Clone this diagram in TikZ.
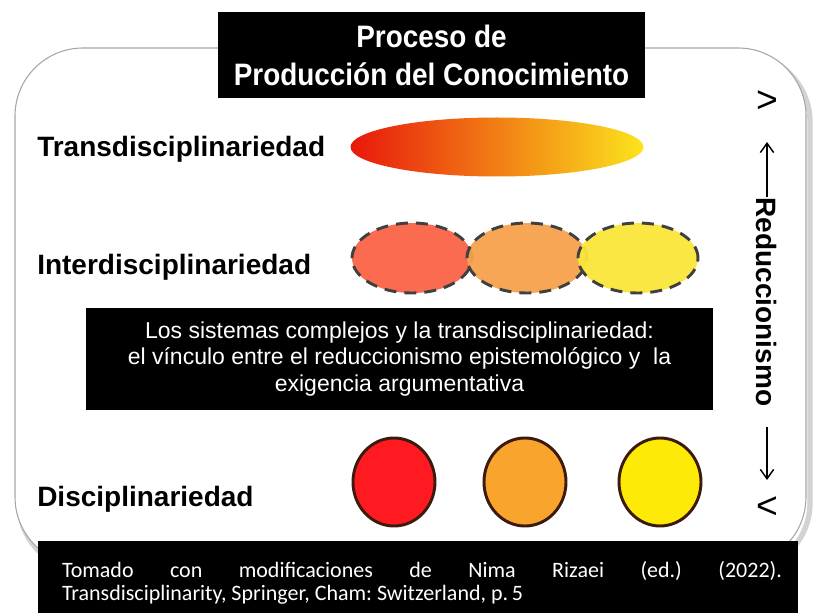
\documentclass[tikz,border=0pt]{standalone}
\usepackage{fontspec}
\setmainfont{Liberation Sans}
\newfontfamily\titlefont{Liberation Sans}[FakeStretch=0.9]
\newfontfamily\footfont{Carlito}
\usetikzlibrary{arrows.meta,shapes.geometric}
\definecolor{gred}{HTML}{E8180C}
\definecolor{gorange}{HTML}{F89020}
\definecolor{gyellow}{HTML}{FBE41D}
\definecolor{ired}{HTML}{FA6446}
\definecolor{iorange}{HTML}{F6A24C}
\definecolor{iyellow}{HTML}{FBE63A}
\definecolor{cred}{HTML}{FF1A22}
\definecolor{corange}{HTML}{F9A42C}
\definecolor{cyellow}{HTML}{FDEA07}
\definecolor{cline}{HTML}{3C1A0E}
\frenchspacing
\begin{document}
\begin{tikzpicture}[x=0.75pt,y=-0.75pt,
  lbl/.style={anchor=base west,inner sep=0pt,font=\fontsize{21}{24}\selectfont\bfseries},
  blackbox/.style={fill=black,inner sep=0pt,text=white},
  dashell/.style={ellipse,draw=black!75,line width=2.2pt,dash pattern=on 9pt off 6pt,
    minimum width=90pt,minimum height=52.5pt,inner sep=0pt,fill opacity=0.95},
  disc/.style={ellipse,draw=cline,line width=2.2pt,minimum width=61.5pt,minimum height=66pt,inner sep=0pt},
  arr/.style={-{Straight Barb[length=7pt,width=10pt]},line width=1.1pt},
  sym/.style={inner sep=0pt,font=\fontsize{28}{30}\selectfont}
]
\useasboundingbox[fill=white] (0,0) rectangle (829,613);

% frame with shadow
\draw[gray!35,line width=4pt,rounded corners=51pt] (19,54) rectangle (810,571);
\draw[gray!70,line width=0.8pt,fill=white,rounded corners=51pt] (15,48) rectangle (806,565);

% title
\node[blackbox,minimum width=320.25pt,minimum height=64.5pt,align=center,
  font=\titlefont\bfseries\fontsize{23.25}{28.5}\selectfont] (title) at (431.5,55)
  {Proceso de\\Producción del Conocimiento};

% labels
\node[lbl] (ltrans) at (37,157) {Transdisciplinariedad};
\node[lbl] (linter) at (37,275) {Interdisciplinariedad};
\node[lbl] (ldisc) at (37,506) {Disciplinariedad};

% transdisciplinary gradient ellipse
\node[ellipse,inner sep=0pt,minimum width=219.75pt,minimum height=44.25pt,
  left color=gred,middle color=gorange,right color=gyellow] (trans) at (497,147) {};

% interdisciplinary dashed ellipses
\node[dashell,fill=ired] (i1) at (412,258) {};
\node[dashell,fill=iorange] (i2) at (527,258) {};
\node[dashell,fill=iyellow] (i3) at (638,258) {};

% middle box
\node[blackbox,minimum width=470.25pt,minimum height=76.5pt,align=center,
  font=\fontsize{17.25}{19.9}\selectfont] (mid) at (399.5,359)
  {Los sistemas complejos y la transdisciplinariedad:\\
   el vínculo entre el reduccionismo epistemológico y\ \ la\\
   exigencia argumentativa};

% disciplinary circles
\node[disc,fill=cred] (c1) at (394,482) {};
\node[disc,fill=corange] (c2) at (525,482) {};
\node[disc,fill=cyellow] (c3) at (660,482) {};

% reductionism scale
\node[sym] (gt) at (767,102) {>};
\node[sym] (lt) at (767,508) {<};
\node[rotate=-90,inner sep=0pt,font=\fontsize{21}{23}\selectfont\bfseries] (red) at (767,302) {Reduccionismo};
\coordinate (upend) at (767,142);
\coordinate (downend) at (767,480);
\draw[arr] (red.west) -- (upend);
\draw[arr,shorten <=15pt] (red.east) -- (downend);

% footer
\node[blackbox,minimum width=570pt,minimum height=54pt] (foot) at (418,577) {};
\node[inner sep=0pt,text=white,text width=540pt,align=justify,
  font=\footfont\fontsize{16.5}{17.25}\selectfont] (foottext) at (422,583)
  {Tomado con modificaciones de Nima Rizaei (ed.) (2022).\linebreak
   Transdisciplinarity, Springer, Cham: Switzerland, p.\,5};
\end{tikzpicture}
\end{document}
